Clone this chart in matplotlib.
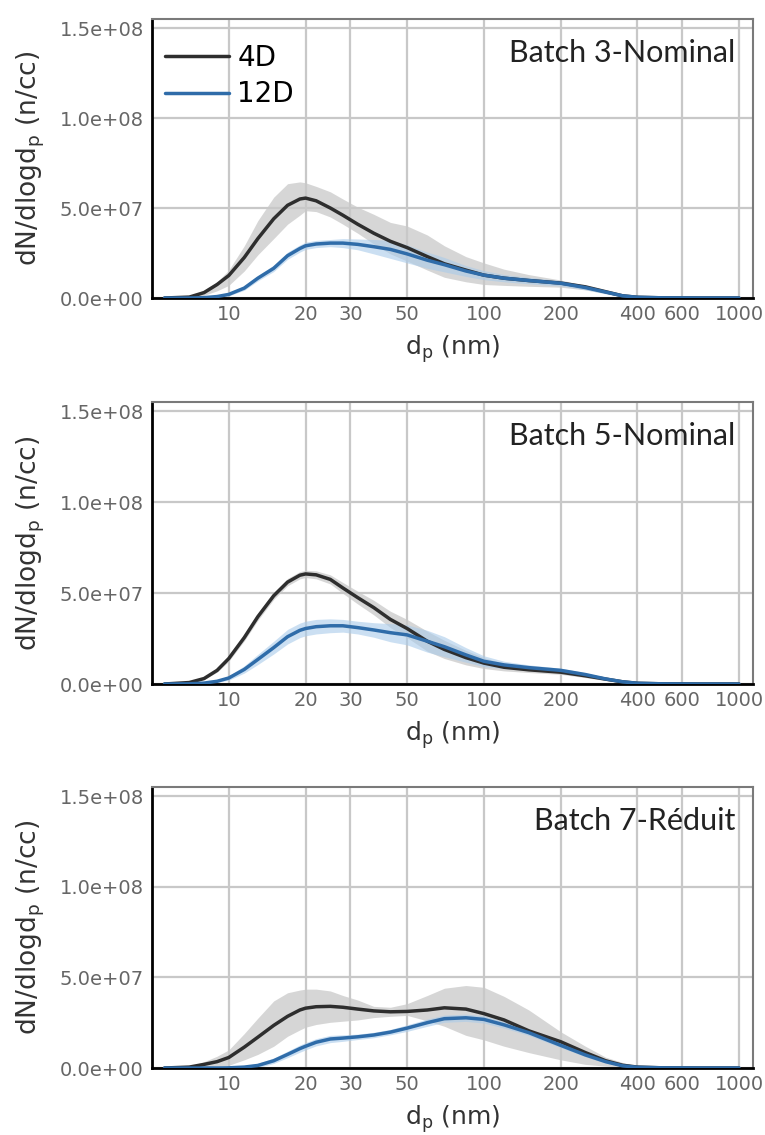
import matplotlib
matplotlib.use("Agg")
import matplotlib.pyplot as plt
import numpy as np

# particle diameter grid (nm)
diam = [5.6, 7, 8, 9, 10, 11.5, 13, 15, 17, 19, 20, 22, 25, 28, 32, 37, 43, 50, 60, 70,
        85, 100, 120, 150, 200, 250, 300, 350, 400, 500, 700, 1000]

# values in units of 1e7 n/cc
b3_4d = [0, 0.05, 0.3, 0.75, 1.25, 2.25, 3.3, 4.4, 5.15, 5.5, 5.55, 5.4, 5.0, 4.6, 4.1, 3.6,
         3.15, 2.8, 2.3, 1.9, 1.55, 1.27, 1.1, 0.97, 0.83, 0.62, 0.35, 0.12, 0.04, 0.01, 0, 0]
b3_4d_hi = [0, 0.08, 0.45, 0.9, 1.55, 2.9, 4.3, 5.6, 6.35, 6.45, 6.4, 6.2, 5.9, 5.5, 5.05, 4.65,
            4.2, 4.0, 3.5, 2.9, 2.3, 1.95, 1.6, 1.3, 1.0, 0.7, 0.4, 0.15, 0.05, 0.01, 0, 0]
b3_4d_lo = [0, 0.02, 0.15, 0.4, 0.7, 1.5, 2.4, 3.3, 4.1, 4.6, 4.85, 4.8, 4.5, 4.1, 3.6, 3.0,
            2.45, 2.05, 1.55, 1.15, 0.9, 0.75, 0.7, 0.65, 0.6, 0.45, 0.25, 0.08, 0.02, 0, 0, 0]
b3_12d = [0, 0, 0.02, 0.08, 0.2, 0.55, 1.1, 1.65, 2.35, 2.75, 2.9, 3.0, 3.05, 3.05, 2.98, 2.85,
          2.7, 2.45, 2.1, 1.85, 1.5, 1.27, 1.1, 0.97, 0.82, 0.58, 0.33, 0.12, 0.04, 0.01, 0, 0]
b3_12d_sd = [0, 0, 0.02, 0.05, 0.08, 0.12, 0.15, 0.18, 0.2, 0.2, 0.2, 0.2, 0.2, 0.25, 0.3, 0.4,
             0.5, 0.5, 0.45, 0.4, 0.3, 0.25, 0.2, 0.18, 0.15, 0.12, 0.1, 0.06, 0.03, 0.01, 0, 0]

b5_4d = [0, 0.08, 0.3, 0.75, 1.4, 2.55, 3.7, 4.85, 5.6, 5.98, 6.05, 6.0, 5.75, 5.28, 4.75, 4.2,
         3.55, 3.05, 2.35, 1.9, 1.45, 1.15, 0.92, 0.78, 0.65, 0.45, 0.27, 0.12, 0.04, 0.01, 0, 0]
b5_4d_sd = [0, 0.02, 0.05, 0.1, 0.15, 0.18, 0.2, 0.2, 0.2, 0.2, 0.2, 0.22, 0.25, 0.3, 0.35, 0.4,
            0.45, 0.5, 0.55, 0.5, 0.4, 0.3, 0.2, 0.15, 0.12, 0.1, 0.08, 0.05, 0.02, 0.01, 0, 0]
b5_12d = [0, 0.01, 0.05, 0.15, 0.33, 0.8, 1.35, 2.0, 2.6, 2.95, 3.05, 3.15, 3.2, 3.2, 3.1, 2.97,
          2.82, 2.7, 2.35, 2.05, 1.6, 1.25, 1.05, 0.9, 0.75, 0.52, 0.28, 0.12, 0.04, 0.01, 0, 0]
b5_12d_sd = [0, 0, 0.02, 0.06, 0.12, 0.2, 0.28, 0.35, 0.4, 0.4, 0.4, 0.4, 0.38, 0.35, 0.35, 0.4,
             0.5, 0.55, 0.6, 0.55, 0.4, 0.3, 0.2, 0.15, 0.12, 0.1, 0.08, 0.05, 0.02, 0.01, 0, 0]

b7_4d = [0, 0.05, 0.2, 0.35, 0.58, 1.15, 1.7, 2.35, 2.85, 3.2, 3.3, 3.38, 3.4, 3.35, 3.25, 3.15,
         3.1, 3.12, 3.2, 3.32, 3.25, 3.0, 2.65, 2.05, 1.45, 0.85, 0.4, 0.15, 0.05, 0.01, 0, 0]
b7_4d_hi = [0, 0.08, 0.35, 0.65, 1.0, 1.9, 2.75, 3.7, 4.15, 4.3, 4.35, 4.35, 4.25, 4.0, 3.75, 3.4,
            3.35, 3.55, 4.0, 4.4, 4.55, 4.45, 3.95, 3.2, 2.0, 1.2, 0.6, 0.3, 0.1, 0.02, 0, 0]
b7_4d_lo = [0, 0.01, 0.05, 0.1, 0.15, 0.45, 0.75, 1.2, 1.75, 2.1, 2.25, 2.4, 2.52, 2.58, 2.65, 2.78,
            2.85, 2.9, 2.6, 2.3, 1.8, 1.55, 1.2, 0.85, 0.45, 0.2, 0.1, 0.04, 0.01, 0, 0, 0]
b7_12d = [0, 0, 0, 0, 0.01, 0.05, 0.14, 0.4, 0.75, 1.07, 1.2, 1.42, 1.6, 1.65, 1.72, 1.82,
          1.98, 2.2, 2.5, 2.72, 2.77, 2.68, 2.38, 1.95, 1.25, 0.72, 0.35, 0.12, 0.04, 0.01, 0, 0]
b7_12d_sd = [0, 0, 0, 0.02, 0.04, 0.08, 0.12, 0.15, 0.18, 0.2, 0.2, 0.2, 0.2, 0.18, 0.15, 0.15,
             0.15, 0.18, 0.2, 0.2, 0.2, 0.2, 0.18, 0.15, 0.12, 0.1, 0.08, 0.05, 0.02, 0.01, 0, 0]

titles = ["Batch 3-Nominal", "Batch 5-Nominal", "Batch 7-Réduit"]
xticks = [10, 20, 30, 50, 100, 200, 400, 600, 1000]
yticks = [0, 5e7, 1e8, 1.5e8]
ytick_labels = ["0.0e+00", "5.0e+07", "1.0e+08", "1.5e+08"]

C_4D = "#2e2e2e"
C_12D = "#2f6ca9"
F_4D = "#c9c9c9"
F_12D = "#a9cbea"

panels = [
    (b3_4d, b3_4d_lo, b3_4d_hi, b3_12d, b3_12d_sd),
    (b5_4d, None, b5_4d_sd, b5_12d, b5_12d_sd),
    (b7_4d, b7_4d_lo, b7_4d_hi, b7_12d, b7_12d_sd),
]

fig = plt.figure(figsize=(7.65, 11.35), dpi=100)
W, H = 765, 1135
boxes = [(19, 298), (402, 684), (787, 1068)]
left_px, right_px = 152, 753

d = np.array(diam)
for i, ((m4, lo4, hi4, m12, sd12), (top, bot)) in enumerate(zip(panels, boxes)):
    ax = fig.add_axes([left_px / W, 1 - bot / H, (right_px - left_px) / W, (bot - top) / H])
    m4 = np.array(m4) * 1e7
    if lo4 is None:
        sd = np.array(hi4) * 1e7
        lo, hi = m4 - sd, m4 + sd
    else:
        lo, hi = np.array(lo4) * 1e7, np.array(hi4) * 1e7
    m12a = np.array(m12) * 1e7
    s12 = np.array(sd12) * 1e7
    ax.fill_between(d, lo, hi, color=F_4D, alpha=0.75, lw=0, zorder=2)
    ax.fill_between(d, m12a - s12, m12a + s12, color=F_12D, alpha=0.6, lw=0, zorder=2)
    ax.plot(d, m4, color=C_4D, lw=2.5, zorder=3, label="4D", solid_capstyle="round")
    ax.plot(d, m12a, color=C_12D, lw=2.5, zorder=4, label="12D", solid_capstyle="round")

    ax.set_xscale("log")
    ax.set_xlim(5, 1135)
    ax.set_ylim(0, 1.55e8)
    ax.set_xticks(xticks)
    ax.set_xticklabels([str(t) for t in xticks])
    ax.xaxis.set_minor_locator(matplotlib.ticker.NullLocator())
    ax.set_yticks(yticks)
    ax.set_yticklabels(ytick_labels)
    ax.tick_params(axis="both", length=0, labelsize=14, labelcolor="#666666")
    ax.tick_params(axis="y", pad=6)
    ax.tick_params(axis="x", pad=5)
    ax.grid(True, color="#c8c8c8", lw=1.6, zorder=0)
    ax.set_axisbelow(True)
    for s in ["left", "bottom"]:
        ax.spines[s].set_color("black")
        ax.spines[s].set_linewidth(2.0)
    for s in ["top", "right"]:
        ax.spines[s].set_color("#7a7a7a")
        ax.spines[s].set_linewidth(1.5)

    ax.set_ylabel(r"dN/dlogd$_\mathregular{p}$ (n/cc)", fontsize=19, color="#333333")
    ax.yaxis.set_label_coords(-0.175, 0.5)
    ax.set_xlabel(r"d$_\mathregular{p}$ (nm)", fontsize=18, color="#333333")
    ax.xaxis.set_label_coords(0.5, -0.125)

    ax.text(0.97, 0.846, titles[i], transform=ax.transAxes, ha="right", va="baseline",
            fontsize=22, family="Lato", color="#222222")

    if i == 0:
        ax.legend(loc="upper left", bbox_to_anchor=(0.022, 0.91), frameon=False,
                  fontsize=20, handlelength=2.3, handletextpad=0.3, labelspacing=0.3,
                  borderpad=0, borderaxespad=0)

fig.savefig("out.png", dpi=100)
